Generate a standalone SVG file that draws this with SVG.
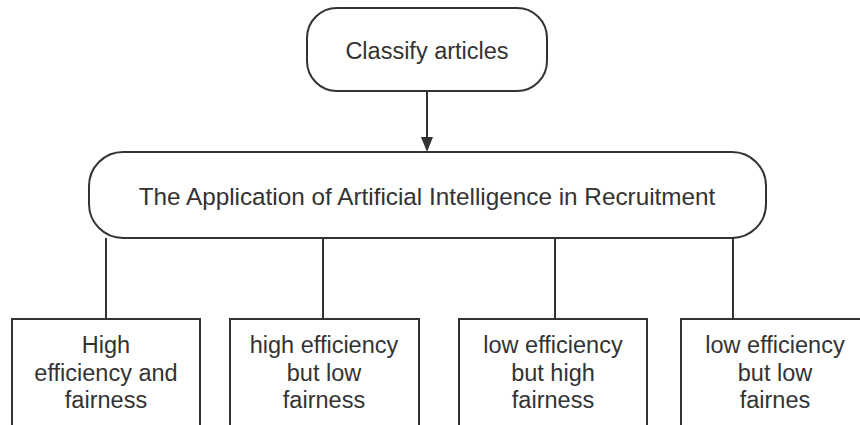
<svg xmlns="http://www.w3.org/2000/svg" width="860" height="425" viewBox="0 0 860 425">
<style>
.n{fill:#fff;stroke:#333;stroke-width:2}
.t{font-family:"Liberation Sans",Arial,sans-serif;font-size:23.5px;fill:#333;text-anchor:middle}
.c{fill:none;stroke:#333;stroke-width:2}
</style>
<rect width="860" height="425" fill="#fff"/>
<g id="connectors">
<line class="c" x1="427" y1="91" x2="427" y2="138"/>
<path d="M421,137 L433,137 L427,152 Z" fill="#333"/>
<line class="c" x1="106" y1="238" x2="106" y2="319"/>
<line class="c" x1="323" y1="238" x2="323" y2="319"/>
<line class="c" x1="555" y1="238" x2="555" y2="319"/>
<line class="c" x1="733" y1="238" x2="733" y2="319"/>
</g>
<g id="top">
<rect class="n" x="307" y="8" width="240" height="83" rx="30" ry="30"/>
<text class="t" x="427" y="59">Classify articles</text>
</g>
<g id="main">
<rect class="n" x="89" y="152" width="677" height="86" rx="34" ry="34"/>
<text class="t" x="427" y="205" style="font-size:24.3px">The Application of Artificial Intelligence in Recruitment</text>
</g>
<g id="b1">
<rect class="n" x="12" y="319" width="188" height="130"/>
<text class="t" x="106" y="353">High<tspan x="106" dy="27.5">efficiency and</tspan><tspan x="106" dy="27.5">fairness</tspan></text>
</g>
<g id="b2">
<rect class="n" x="230" y="319" width="189" height="130"/>
<text class="t" x="324" y="353">high efficiency<tspan x="324" dy="27.5">but low</tspan><tspan x="324" dy="27.5">fairness</tspan></text>
</g>
<g id="b3">
<rect class="n" x="459" y="319" width="188" height="130"/>
<text class="t" x="553" y="353">low efficiency<tspan x="553" dy="27.5">but high</tspan><tspan x="553" dy="27.5">fairness</tspan></text>
</g>
<g id="b4">
<rect class="n" x="681" y="319" width="190" height="130"/>
<text class="t" x="775" y="353">low efficiency<tspan x="775" dy="27.5">but low</tspan><tspan x="775" dy="27.5">fairnes</tspan></text>
</g>
</svg>
